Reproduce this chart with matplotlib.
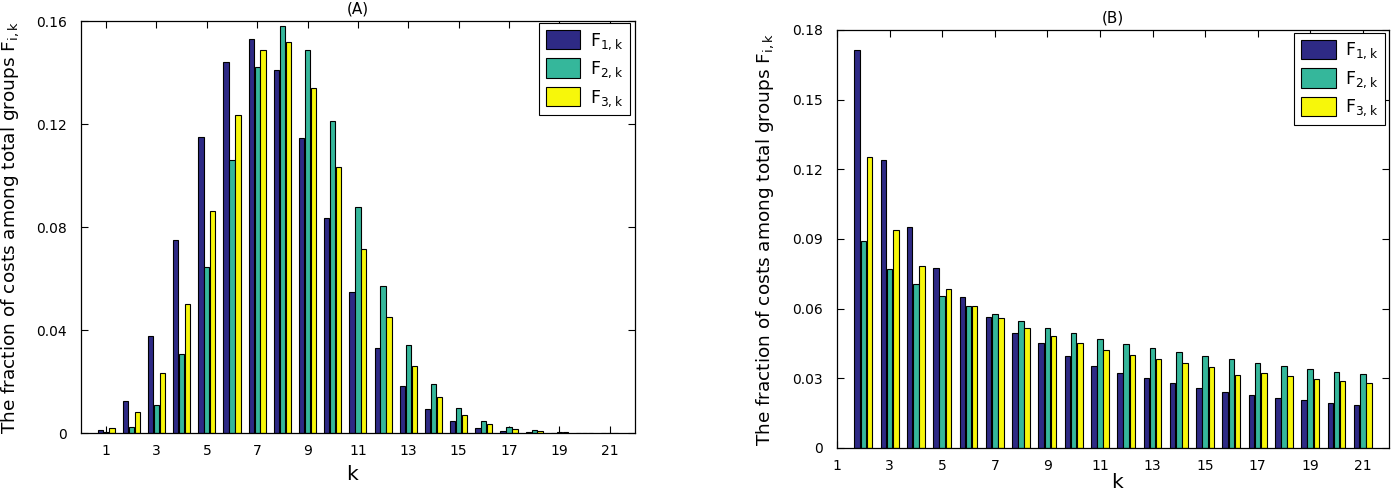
import matplotlib
matplotlib.use("Agg")
import matplotlib.pyplot as plt
import numpy as np

# ---------------- data ----------------
k_a = list(range(1, 22))
F1_a = [0.0010, 0.0125, 0.0375, 0.0750, 0.1150, 0.1442, 0.1531, 0.1410, 0.1146, 0.0834,
        0.0549, 0.0331, 0.0184, 0.0094, 0.0045, 0.0019, 0.0009, 0.0003, 0.0001, 0.00005, 0.00002]
F2_a = [0.0005, 0.0023, 0.0109, 0.0307, 0.0643, 0.1060, 0.1420, 0.1580, 0.1487, 0.1213,
        0.0877, 0.0572, 0.0342, 0.0189, 0.0097, 0.0047, 0.0022, 0.0010, 0.0003, 0.0001, 0.00005]
F3_a = [0.0018, 0.0082, 0.0233, 0.0501, 0.0863, 0.1235, 0.1486, 0.1520, 0.1339, 0.1034,
        0.0715, 0.0449, 0.0261, 0.0141, 0.0071, 0.0035, 0.0014, 0.0006, 0.0002, 0.0001, 0.00003]

k_b = list(range(2, 22))
F1_b = [0.1714, 0.1240, 0.0950, 0.0773, 0.0650, 0.0563, 0.0493, 0.0454, 0.0398, 0.0355,
        0.0324, 0.0301, 0.0279, 0.0260, 0.0243, 0.0229, 0.0217, 0.0205, 0.0195, 0.0185]
F2_b = [0.0890, 0.0772, 0.0707, 0.0654, 0.0611, 0.0578, 0.0548, 0.0515, 0.0497, 0.0468,
        0.0446, 0.0429, 0.0412, 0.0395, 0.0382, 0.0367, 0.0353, 0.0340, 0.0328, 0.0317]
F3_b = [0.1253, 0.0940, 0.0783, 0.0683, 0.0611, 0.0561, 0.0518, 0.0482, 0.0454, 0.0422,
        0.0401, 0.0382, 0.0364, 0.0348, 0.0314, 0.0321, 0.0310, 0.0299, 0.0289, 0.0279]

labels = [r'F$_{1,k}$', r'F$_{2,k}$', r'F$_{3,k}$']
colors = ['#2e2a85', '#35b79b', '#f7f70a']

xticks = list(range(1, 22, 2))
yticks_a = [0, 0.04, 0.08, 0.12, 0.16]
ytick_labels_a = ['0', '0.04', '0.08', '0.12', '0.16']
yticks_b = [0, 0.03, 0.06, 0.09, 0.12, 0.15, 0.18]
ytick_labels_b = ['0', '0.03', '0.06', '0.09', '0.12', '0.15', '0.18']

ylabel = r'The fraction of costs among total groups F$_{\mathregular{i,k}}$'

plt.rcParams['mathtext.default'] = 'regular'

fig = plt.figure(figsize=(13.93, 4.93), dpi=100)
axA = fig.add_axes([0.0581, 0.1217, 0.3977, 0.8357])
axB = fig.add_axes([0.6009, 0.0913, 0.3963, 0.8479])


def draw(ax, k, series, xlim, ylim, yticks, yticklabels, title, legend_anchor,
         ylab_x, xlab_xy):
    k = np.asarray(k, dtype=float)
    offs = [-0.235, 0.0, 0.235]
    handles = []
    for s, o, c, lab in zip(series, offs, colors, labels):
        h = ax.bar(k + o, s, width=0.21, color=c, edgecolor='black', linewidth=0.8,
                   label=lab, zorder=2)
        handles.append(h)
    ax.set_xlim(*xlim)
    ax.set_ylim(*ylim)
    ax.set_xticks(xticks)
    ax.set_xticklabels([str(t) for t in xticks])
    ax.set_yticks(yticks)
    ax.set_yticklabels(yticklabels)
    ax.tick_params(direction='in', top=True, right=True, length=5, width=0.8,
                   labelsize=10)
    ax.tick_params(axis='y', pad=10)
    ax.tick_params(axis='x', pad=8)
    for sp in ax.spines.values():
        sp.set_linewidth(0.9)
    ax.set_title(title, fontsize=11, pad=5.5)
    ax.set_xlabel('k', fontsize=14.5)
    ax.xaxis.set_label_coords(*xlab_xy)
    ax.set_ylabel(ylabel, fontsize=13.3)
    ax.yaxis.set_label_coords(ylab_x, 0.5)
    leg = ax.legend(handles=handles, loc='upper right', bbox_to_anchor=legend_anchor,
                    fontsize=12.5, handlelength=2.0, handleheight=1.35,
                    handletextpad=0.55, borderpad=0.4, labelspacing=0.4,
                    fancybox=False, framealpha=1, edgecolor='black',
                    borderaxespad=0)
    leg.get_frame().set_linewidth(0.8)


draw(axA, k_a, [F1_a, F2_a, F3_a], (0, 22), (0, 0.16), yticks_a, ytick_labels_a,
     '(A)', (0.991, 0.995), -0.108, (0.489, -0.078))
draw(axB, k_b, [F1_b, F2_b, F3_b], (1, 22), (0, 0.18), yticks_b, ytick_labels_b,
     '(B)', (0.993, 0.993), -0.11, (0.507, -0.06))

fig.savefig('out.png', dpi=100)
